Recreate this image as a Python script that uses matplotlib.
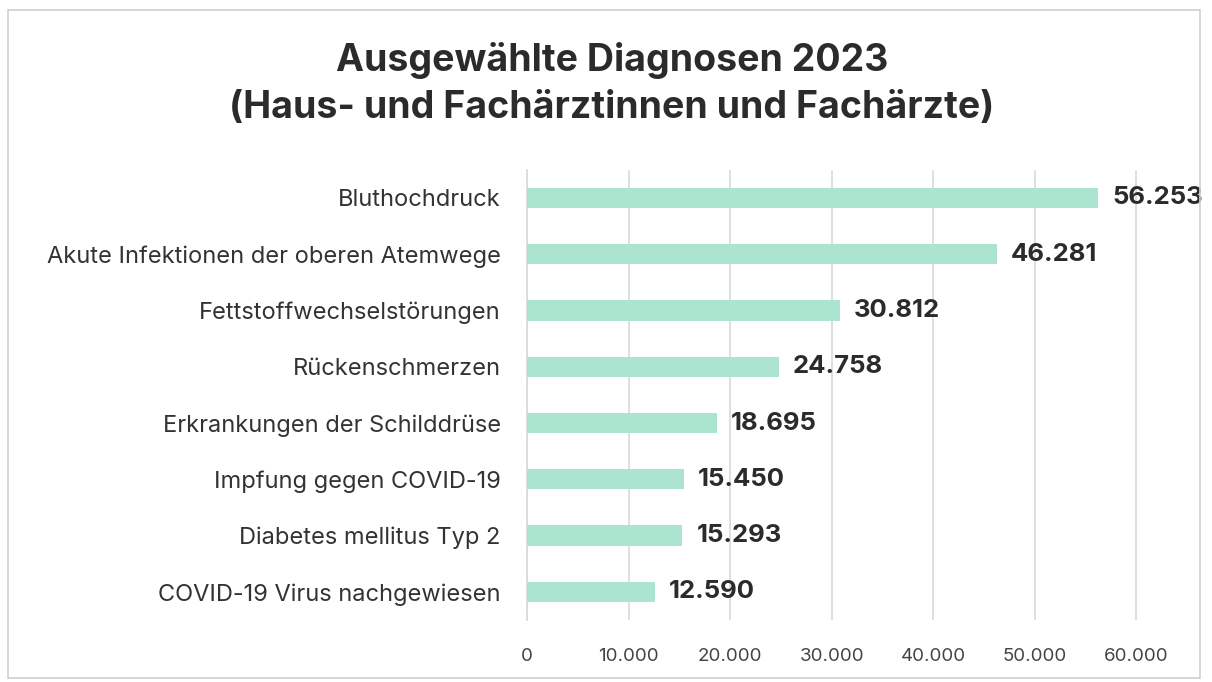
import matplotlib.pyplot as plt
from matplotlib.patches import Rectangle

kategorien = ['Bluthochdruck', 'Akute Infektionen der oberen Atemwege',
              'Fettstoffwechselstörungen', 'Rückenschmerzen',
              'Erkrankungen der Schilddrüse', 'Impfung gegen COVID-19',
              'Diabetes mellitus Typ 2', 'COVID-19 Virus nachgewiesen']
werte = [56253, 46281, 30812, 24758, 18695, 15450, 15293, 12590]
ticks = [0, 10000, 20000, 30000, 40000, 50000, 60000]
tick_labels = ['0', '10.000', '20.000', '30.000', '40.000', '50.000', '60.000']

plt.rcParams['font.family'] = ['Inter', 'DejaVu Sans']

fig = plt.figure(figsize=(12.12, 6.82), dpi=100)
fig.patches.append(Rectangle((0.007, 0.006), 0.983, 0.98, transform=fig.transFigure,
                             fill=False, edgecolor='#d0d0d0', linewidth=1.2))
ax = fig.add_axes([0.435, 0.091, 0.536, 0.66])

y = list(range(len(kategorien)))
ax.barh(y, werte, height=0.36, color='#abe5cf', zorder=3)
for yi, w in zip(y, werte):
    label = f'{w:,}'.replace(',', '.')
    ax.text(w + 1400, yi, label, va='center', ha='left', fontsize=18.5,
            fontweight='bold', color='#2b2b2b')

ax.set_ylim(len(kategorien) - 0.5, -0.5)
ax.set_xlim(0, 64000)
ax.set_yticks(y)
ax.set_yticklabels(kategorien, fontsize=17, color='#333333')
ax.set_xticks(ticks)
ax.set_xticklabels(tick_labels, fontsize=13.5, color='#444444')
ax.tick_params(length=0)
ax.tick_params(axis='y', pad=19)
ax.tick_params(axis='x', pad=20)
ax.grid(axis='x', color='#d9d9d9', linewidth=1.2, zorder=0)
for s in ['top', 'right', 'bottom']:
    ax.spines[s].set_visible(False)
ax.spines['left'].set_color('#d9d9d9')
ax.spines['left'].set_linewidth(1.2)

fig.text(0.505, 0.912, 'Ausgewählte Diagnosen 2023', ha='center', va='center',
         fontsize=27, fontweight='bold', color='#2b2b2b')
fig.text(0.505, 0.842, '(Haus- und Fachärztinnen und Fachärzte)', ha='center',
         va='center', fontsize=27, fontweight='bold', color='#2b2b2b')

fig.savefig('out.png', dpi=100)
